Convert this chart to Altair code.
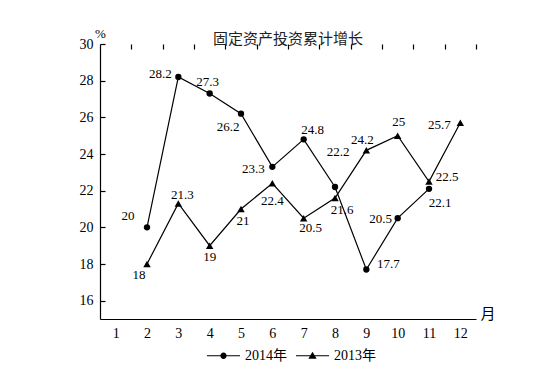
import altair as alt
import pandas as pd

# ---- data ----
months = list(range(1, 13))
series_names = ["2014年", "2013年"]
months_2014 = [2, 3, 4, 5, 6, 7, 8, 9, 10, 11]
values_2014 = [20, 28.2, 27.3, 26.2, 23.3, 24.8, 22.2, 17.7, 20.5, 22.1]
months_2013 = [2, 3, 4, 5, 6, 7, 8, 9, 10, 11, 12]
values_2013 = [18, 21.3, 19, 21, 22.4, 20.5, 21.6, 24.2, 25, 22.5, 25.7]
y_tick_values = [16, 18, 20, 22, 24, 26, 28, 30]

# ---- label placement (pixel offsets, style only) ----
dx_2014 = [-19, -18, -2, -13, -19, 9, 3, 22, -17, 11]
dy_2014 = [-11, -3, -12, 13, 2, -9, -35, -6, 1, 14]
dx_2013 = [-8, 4, 0, 2, 0, 7, 7, -4, 1, 18, -21]
dy_2013 = [11, -9, 11, 12, 18, 10, 12, -10, -14, -5, 2]

W, H = 376, 275
X0, X1 = 0.5, 12.5
Y0, Y1 = 15, 30
FONT = "Liberation Serif, Noto Sans CJK SC"
TICK_LEN = 5
half = W / 12 / 2

df14 = pd.DataFrame({"month": months_2014, "value": values_2014, "series": series_names[0],
                     "dx": dx_2014, "dy": dy_2014})
df13 = pd.DataFrame({"month": months_2013, "value": values_2013, "series": series_names[1],
                     "dx": dx_2013, "dy": dy_2013})
df = pd.concat([df14, df13], ignore_index=True)
df["label"] = df["value"].map(lambda v: f"{v:g}")

x_scale = alt.Scale(domain=[X0, X1], nice=False, zero=False)
y_scale = alt.Scale(domain=[Y0, Y1], nice=False, zero=False)

# inward ticks are drawn as gridlines dashed so only the first TICK_LEN px show
x_axis = alt.Axis(values=months, format="d", title="月",
                  grid=True, gridDash=[TICK_LEN, 3000], gridColor="black",
                  gridWidth=1.2, gridOpacity=1,
                  tickOffset=half, labelOffset=-half,
                  ticks=False, labelPadding=7,
                  labelFlush=False, labelOverlap=False, labelBound=False,
                  titleX=W + 4, titleY=-6, titleAlign="left",
                  titleBaseline="middle", titleAngle=0,
                  titleFontSize=15, titleFontWeight="normal")
y_axis = alt.Axis(values=y_tick_values, title="%",
                  grid=True, gridDash=[TICK_LEN, 3000], gridColor="black",
                  gridWidth=1.2, gridOpacity=1,
                  ticks=False, labelPadding=7,
                  labelFlush=False, labelOverlap=False, labelBound=False,
                  titleX=0, titleY=-11, titleAlign="center",
                  titleBaseline="middle", titleAngle=0,
                  titleFontSize=13, titleFontWeight="normal")

base = alt.Chart(df)

lines = base.mark_line(color="black", strokeWidth=1.2).encode(
    x=alt.X("month:Q", scale=x_scale, axis=x_axis),
    y=alt.Y("value:Q", scale=y_scale, axis=y_axis),
    detail="series:N")

pts14 = alt.Chart(df14).mark_point(shape="circle", filled=True, color="black",
                                   size=40, opacity=1).encode(
    x=alt.X("month:Q", axis=x_axis), y=alt.Y("value:Q", axis=y_axis))
pts13 = alt.Chart(df13).mark_point(shape="triangle-up", filled=True, color="black",
                                   size=55, opacity=1).encode(
    x=alt.X("month:Q", axis=x_axis), y=alt.Y("value:Q", axis=y_axis))

label_layers = []
for i, row in df.iterrows():
    label_layers.append(
        alt.Chart(df.iloc[[i]]).mark_text(
            font=FONT, fontSize=13, color="black", fill="black",
            baseline="middle", align="center",
            dx=float(row["dx"]), dy=float(row["dy"])
        ).encode(x=alt.X("month:Q", axis=x_axis), y=alt.Y("value:Q", axis=y_axis),
                 text="label:N")
    )

t = 0.037
circ_path = (f"M-1,-{t}H1V{t}H-1Z"
             "M0.19,0A0.19,0.19,0,1,1,-0.19,0A0.19,0.19,0,1,1,0.19,0Z")
tri_path = f"M-1,-{t}H1V{t}H-1ZM0,-0.24L0.25,0.18L-0.25,0.18Z"

legend_layer = base.mark_point(filled=True, color="black", opacity=0).encode(
    x=alt.X("month:Q", axis=x_axis), y=alt.Y("value:Q", axis=y_axis),
    shape=alt.Shape("series:N",
                    scale=alt.Scale(domain=series_names, range=[circ_path, tri_path]),
                    legend=alt.Legend(title=None, orient="none", direction="horizontal",
                                      legendX=106, legendY=294,
                                      symbolSize=1089, symbolOpacity=1,
                                      symbolFillColor="black",
                                      labelFont=FONT, labelFontSize=14, labelColor="black",
                                      labelOffset=4, columnPadding=6)))

chart = alt.layer(lines, pts14, pts13, *label_layers, legend_layer).properties(
    width=W, height=H,
    title=alt.TitleParams("固定资产投资累计增长", font=FONT, fontSize=15,
                          fontWeight="normal", color="#222", anchor="middle",
                          frame="group", offset=5, baseline="middle", dy=32),
    autosize=alt.AutoSizeParams(type="none"),
    padding={"left": 92, "top": 36, "right": 60, "bottom": 50},
    background="white",
).configure_view(stroke=None).configure_axis(
    domainColor="black", domainWidth=1.2, labelOverlap=False,
    labelFont=FONT, labelFontSize=14, labelColor="black",
    titleFont=FONT, titleColor="black",
)

chart.save("out.html", embed_options={"renderer": "svg", "actions": False})
